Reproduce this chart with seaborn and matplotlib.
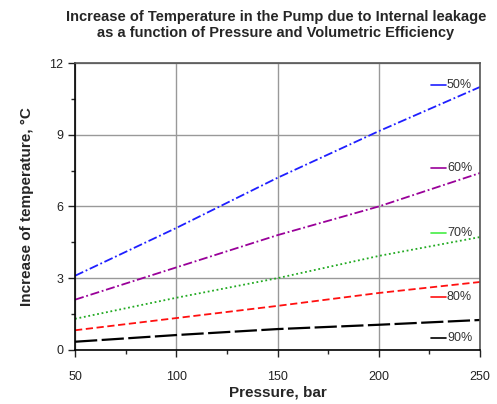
import numpy as np
import pandas as pd
import seaborn as sns
import matplotlib.pyplot as plt
from matplotlib.ticker import MultipleLocator

# ocitane vrednosti sa grafika
pressure = [50, 100, 150, 200, 250]
eff_labels = ['50%', '60%', '70%', '80%', '90%']
temp_50 = [3.1, 5.1, 7.2, 9.15, 11.0]
temp_60 = [2.1, 3.45, 4.8, 6.0, 7.4]
temp_70 = [1.3, 2.18, 3.0, 3.93, 4.72]
temp_80 = [0.82, 1.33, 1.84, 2.38, 2.84]
temp_90 = [0.34, 0.62, 0.87, 1.05, 1.25]
label_y = [11.08, 7.6, 4.9, 2.2, 0.5]

colors = ['#1f1fff', '#990099', '#22aa22', '#ff1010', '#000000']
label_colors = ['#1f1fff', '#990099', '#44ee44', '#ff1010', '#000000']
styles = [(0, (5, 1.5, 1, 1.5)), (0, (5, 1.5, 1, 1.5)), (0, (1, 1.5)), (0, (4, 2)), (0, (10, 2))]

data = pd.DataFrame({'Pressure': pressure * 5,
                     'Temp': temp_50 + temp_60 + temp_70 + temp_80 + temp_90,
                     'Eff': sum([[e] * len(pressure) for e in eff_labels], [])})

sns.set_style('white')
plt.rcParams['font.family'] = ['Liberation Sans', 'DejaVu Sans']

fig = plt.figure(figsize=(4.97, 4.04), dpi=100)
ax = fig.add_axes([0.151, 0.134, 0.815, 0.71])

for i, e in enumerate(eff_labels):
    sub = data[data.Eff == e]
    sns.lineplot(x='Pressure', y='Temp', data=sub, ax=ax, color=colors[i],
                 linestyle=styles[i], linewidth=1.6 if i == 4 else 1.3, legend=False)
    ax.plot([226, 233], [label_y[i], label_y[i]], color=label_colors[i], lw=1.2)
    ax.text(233.6, label_y[i], e, va='center', ha='left', fontsize=9, color='#333333')

ax.set_xlim(50, 250)
ax.set_ylim(0, 12)
ax.xaxis.set_major_locator(MultipleLocator(50))
ax.xaxis.set_minor_locator(MultipleLocator(25))
ax.yaxis.set_major_locator(MultipleLocator(3))
ax.yaxis.set_minor_locator(MultipleLocator(1.5))
ax.grid(True, which='major', color='#999999', lw=1.0)
ax.tick_params(which='major', direction='out', length=5, width=1, labelsize=9,
               bottom=True, left=True, colors='#222222')
ax.tick_params(which='minor', direction='out', length=3, width=1, bottom=True, left=True)
ax.tick_params(axis='x', pad=10)
for s in ['left', 'bottom']:
    ax.spines[s].set_color('black')
    ax.spines[s].set_linewidth(1.2)
for s in ['top', 'right']:
    ax.spines[s].set_color('#555555')
    ax.spines[s].set_linewidth(1.2)

ax.set_xlabel('Pressure, bar', fontsize=11, fontweight='bold', labelpad=2)
ax.set_ylabel('Increase of temperature, °C', fontsize=11, fontweight='bold', labelpad=11)
fig.suptitle('Increase of Temperature in the Pump due to Internal leakage\n'
             'as a function of Pressure and Volumetric Efficiency',
             x=0.555, y=0.975, fontsize=10.5, fontweight='bold', linespacing=1.15)

fig.savefig('out.png', dpi=100)
